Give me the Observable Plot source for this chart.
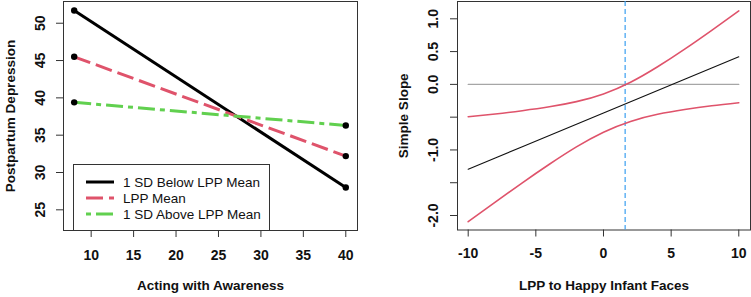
<!DOCTYPE html>
<html>
<head>
<meta charset="utf-8">
<script src="https://cdn.jsdelivr.net/npm/d3@7"></script>
<script src="https://cdn.jsdelivr.net/npm/@observablehq/plot@0.6"></script>
<style>
  html, body { margin: 0; padding: 0; background: #fff; }
  #wrap { position: relative; width: 751px; height: 297px; overflow: hidden;
          font-family: "Liberation Sans", Arial, Helvetica, sans-serif; }
  #left { position: absolute; left: 0; top: 0; }
  #right { position: absolute; left: 375px; top: 0; }
  #legend { position: absolute; left: 73px; top: 164px; width: 195px; height: 65px;
            border: 1px solid #333; background: #fff; }
  #legend .row { position: absolute; left: 0; height: 16px; display: flex; align-items: center; }
  #legend svg { display: block; }
  #legend span { font-size: 13.5px; color: #111; margin-left: 9px; white-space: nowrap; }
</style>
</head>
<body>
<div id="wrap">
  <div id="left"></div>
  <div id="right"></div>
  <div id="legend"></div>
</div>
<script>
// Left panel: predicted postpartum depression at low/high Acting with Awareness
const awareX = [8, 40];
const belowLPP = [51.7, 28.0];
const meanLPP = [45.5, 32.2];
const aboveLPP = [39.4, 36.3];
const seriesNames = ["1 SD Below LPP Mean", "LPP Mean", "1 SD Above LPP Mean"];
const seriesColors = ["#000000", "#DF536B", "#61D04F"];
const seriesDash = [null, "17,6", "17,5,5,5"];
const leftXTicks = [10, 15, 20, 25, 30, 35, 40];
const leftYTicks = [25, 30, 35, 40, 45, 50];

// Right panel: simple slope of Acting with Awareness across LPP, with confidence band
const lppX = [-10, -8, -6, -4, -2, 0, 2, 4, 6, 8, 10];
const simpleSlope = [-1.294, -1.123, -0.951, -0.780, -0.608, -0.437, -0.266, -0.094, 0.077, 0.249, 0.420];
const upperCI = [-0.494, -0.451, -0.401, -0.342, -0.263, -0.145, 0.033, 0.269, 0.538, 0.825, 1.120];
const lowerCI = [-2.094, -1.795, -1.501, -1.218, -0.953, -0.729, -0.565, -0.457, -0.384, -0.327, -0.280];
const regionBoundary = 1.6;
const zeroLineX = [-10, 10];
const rightXTicks = [-10, -5, 0, 5, 10];
const rightXLabels = ["-10", "-5", "0", "5", "10"];
const rightYTicks = [-2, -1.5, -1, -0.5, 0, 0.5, 1];
const rightYLabelAt = [-2, -1, 0, 0.5, 1];
const rightYLabels = ["-2.0", "-1.0", "0.0", "0.5", "1.0"];

const font = `"Liberation Sans", Arial, Helvetica, sans-serif`;
const ink = "#333";
const tickStyle = {fontWeight: "bold", fontSize: 14, fill: "#111"};
const titleStyle = {fontWeight: "bold", fontSize: 13.5, fill: "#111"};

// ---------- left panel ----------
const groups = [belowLPP, meanLPP, aboveLPP].map((vals, i) =>
  awareX.map((x, j) => ({x, y: vals[j], series: seriesNames[i]})));

const leftMarks = [
  Plot.frame({stroke: ink}),
  Plot.axisX({ticks: leftXTicks, tickSize: 7, tickFormat: () => "", label: null, stroke: ink}),
  Plot.axisY({ticks: leftYTicks, tickSize: 7, tickFormat: () => "", label: null, stroke: ink}),
  Plot.text(leftXTicks, {x: d => d, text: d => String(d), frameAnchor: "bottom", dy: 29, ...tickStyle}),
  Plot.text(leftYTicks, {y: d => d, text: d => String(d), frameAnchor: "left", dx: -23,
    rotate: -90, textAnchor: "middle", ...tickStyle}),
  Plot.text(["Acting with Awareness"], {frameAnchor: "bottom", dy: 59, ...titleStyle}),
  Plot.text(["Postpartum Depression"], {frameAnchor: "left", dx: -53, rotate: -90,
    textAnchor: "middle", ...titleStyle})
];
groups.forEach((g, i) => {
  leftMarks.push(Plot.line(g, {x: "x", y: "y", stroke: seriesColors[i], strokeWidth: 3,
    strokeDasharray: seriesDash[i] || undefined, strokeLinecap: "butt"}));
});
groups.forEach(g => {
  leftMarks.push(Plot.dot(g, {x: "x", y: "y", fill: "#000", r: 3.2}));
});

const left = Plot.plot({
  width: 375, height: 297,
  marginLeft: 63, marginRight: 18, marginTop: 1, marginBottom: 67,
  x: {domain: [6.74, 41.38], axis: null},
  y: {domain: [22.23, 52.91], axis: null},
  style: {fontFamily: font, background: "transparent", overflow: "visible"},
  marks: leftMarks
});
document.getElementById("left").appendChild(left);

// legend
const legend = document.getElementById("legend");
seriesNames.forEach((name, i) => {
  const row = document.createElement("div");
  row.className = "row";
  row.style.top = (9 + i * 16) + "px";
  row.style.left = "12px";
  const svg = d3.create("svg").attr("width", 28).attr("height", 16);
  svg.append("line").attr("x1", 0).attr("x2", 28).attr("y1", 8).attr("y2", 8)
    .attr("stroke", seriesColors[i]).attr("stroke-width", 3)
    .attr("stroke-dasharray", i === 2 ? "5,5,17,5" : (seriesDash[i] || null));
  row.appendChild(svg.node());
  const label = document.createElement("span");
  label.textContent = name;
  row.appendChild(label);
  legend.appendChild(row);
});

// ---------- right panel ----------
const slopeData = lppX.map((x, i) => ({x, slope: simpleSlope[i], hi: upperCI[i], lo: lowerCI[i]}));
const zeroData = zeroLineX.map(x => ({x, y: 0}));

const right = Plot.plot({
  width: 376, height: 297,
  marginLeft: 82, marginRight: 1, marginTop: 1, marginBottom: 67.5,
  x: {domain: [-10.79, 10.865], axis: null},
  y: {domain: [-2.221, 1.264], axis: null},
  style: {fontFamily: font, background: "transparent", overflow: "visible"},
  marks: [
    Plot.frame({stroke: ink}),
    Plot.axisX({ticks: rightXTicks, tickSize: 7, tickFormat: () => "", label: null, stroke: ink}),
    Plot.axisY({ticks: rightYTicks, tickSize: 7, tickFormat: () => "", label: null, stroke: ink}),
    Plot.text(rightXTicks, {x: d => d, text: (d, i) => rightXLabels[i], frameAnchor: "bottom", dy: 28, ...tickStyle}),
    Plot.text(rightYLabelAt, {y: d => d, text: (d, i) => rightYLabels[i], frameAnchor: "left", dx: -24,
      rotate: -90, textAnchor: "middle", ...tickStyle}),
    Plot.text(["LPP to Happy Infant Faces"], {frameAnchor: "bottom", dy: 60, ...titleStyle}),
    Plot.text(["Simple Slope"], {frameAnchor: "left", dx: -54, rotate: -90,
      textAnchor: "middle", ...titleStyle}),
    Plot.line(zeroData, {x: "x", y: "y", stroke: "#a6a6a6", strokeWidth: 1.2}),
    Plot.ruleX([regionBoundary], {stroke: "#3a9ff0", strokeWidth: 1.2, strokeDasharray: "5,3"}),
    Plot.line(slopeData, {x: "x", y: "slope", stroke: "#111", strokeWidth: 1.1}),
    Plot.line(slopeData, {x: "x", y: "hi", stroke: "#DF536B", strokeWidth: 1.6, curve: "natural"}),
    Plot.line(slopeData, {x: "x", y: "lo", stroke: "#DF536B", strokeWidth: 1.6, curve: "natural"})
  ]
});
document.getElementById("right").appendChild(right);
</script>
</body>
</html>
